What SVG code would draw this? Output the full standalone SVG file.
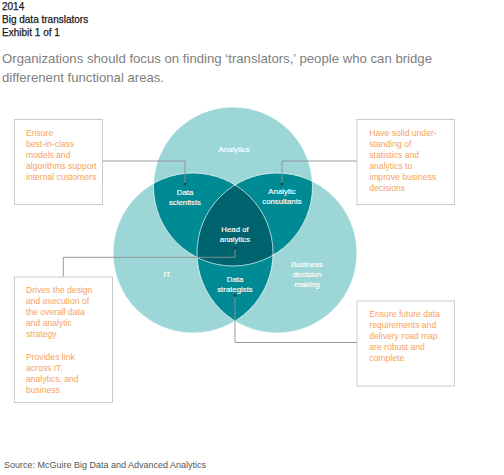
<svg xmlns="http://www.w3.org/2000/svg" width="504" height="475" viewBox="0 0 504 475">
<style>
  .hdr{font-family:"Liberation Sans",Arial,sans-serif;font-size:10px;fill:#1a1a1a;stroke:#1a1a1a;stroke-width:0.25}
  .sub{font-family:"Liberation Sans",Arial,sans-serif;font-size:13.5px;fill:#808080}
  .lbl{font-family:"Liberation Sans",Arial,sans-serif;font-size:7.8px;fill:#ffffff;text-anchor:middle;stroke:#ffffff;stroke-width:0.15}
  .note{font-family:"Liberation Sans",Arial,sans-serif;font-size:8.6px;fill:#f7a35b}
  .box{fill:#ffffff;stroke:#cbcbcb;stroke-width:1}
  .conn{fill:none;stroke:#8f8f8f;stroke-width:0.9}
  .dot{fill:#1d3b40}
  .src{font-family:"Liberation Sans",Arial,sans-serif;font-size:9px;fill:#555555}
  .light{fill:#9dd6d7}
  .mid{fill:#008a93}
  .dark{fill:#00646f}
  .edge{fill:none;stroke:#ffffff;stroke-width:0.8;stroke-opacity:0.85}
</style>
<defs>
  <clipPath id="cA"><circle cx="233" cy="186.5" r="79.5"/></clipPath>
  <clipPath id="cI"><circle cx="193" cy="253" r="80"/></clipPath>
</defs>
<rect width="504" height="475" fill="#ffffff"/>

<g id="header">
  <text class="hdr" x="2" y="9.5">2014</text>
  <text class="hdr" x="2" y="22.8">Big data translators</text>
  <text class="hdr" x="2" y="36">Exhibit 1 of 1</text>
  <text class="sub" x="2" y="63.3" textLength="430" lengthAdjust="spacingAndGlyphs">Organizations should focus on finding ‘translators,’ people who can bridge</text>
  <text class="sub" x="2" y="81.7" textLength="162" lengthAdjust="spacingAndGlyphs">differenent functional areas.</text>
</g>

<g id="venn">
  <g id="analytics"><circle class="light" cx="233" cy="186.5" r="79.5"/></g>
  <g id="it"><circle class="light" cx="193" cy="253" r="80"/></g>
  <g id="business"><circle class="light" cx="277" cy="253" r="80"/></g>
  <g id="data-scientists"><circle class="mid" cx="193" cy="253" r="80" clip-path="url(#cA)"/></g>
  <g id="analytic-consultants"><circle class="mid" cx="277" cy="253" r="80" clip-path="url(#cA)"/></g>
  <g id="data-strategists"><circle class="mid" cx="277" cy="253" r="80" clip-path="url(#cI)"/></g>
  <g id="head-of-analytics" clip-path="url(#cA)"><circle class="dark" cx="277" cy="253" r="80" clip-path="url(#cI)"/></g>
  <g id="edges">
    <circle class="edge" cx="233" cy="186.5" r="79.5"/>
    <circle class="edge" cx="193" cy="253" r="80"/>
    <circle class="edge" cx="277" cy="253" r="80"/>
  </g>
  <g id="labels">
    <text class="lbl" x="234" y="151.5">Analytics</text>
    <text class="lbl" x="185" y="194.5">Data</text>
    <text class="lbl" x="185" y="204.5">scientists</text>
    <text class="lbl" x="282" y="194">Analytic</text>
    <text class="lbl" x="282" y="204">consultants</text>
    <text class="lbl" x="235" y="232">Head of</text>
    <text class="lbl" x="235" y="242">analytics</text>
    <text class="lbl" x="167" y="277">IT</text>
    <text class="lbl" x="235" y="282">Data</text>
    <text class="lbl" x="235" y="292">strategists</text>
    <text class="lbl" x="307" y="267.3">Business</text>
    <text class="lbl" x="307" y="277.3">decision</text>
    <text class="lbl" x="307" y="287">making</text>
  </g>
</g>

<g id="connectors">
  <polyline class="conn" points="102,161 185,161 185,184"/>
  <circle class="dot" cx="185" cy="184" r="1.2"/>
  <polyline class="conn" points="357,161 282,161 282,184"/>
  <circle class="dot" cx="282" cy="184" r="1.2"/>
  <polyline class="conn" points="63.3,276.7 63.3,257.3 235,257.3 235,248.3"/>
  <circle class="dot" cx="235" cy="248.3" r="1.2"/>
  <polyline class="conn" points="357,342.5 235,342.5 235,295.5"/>
  <circle class="dot" cx="235" cy="295.5" r="1.2"/>
</g>

<g id="box-data-scientists">
  <rect class="box" x="14.5" y="119.5" width="88" height="85"/>
  <text class="note" x="26" y="135.7">Ensure</text>
  <text class="note" x="26" y="146.7">best-in-class</text>
  <text class="note" x="26" y="157.5">models and</text>
  <text class="note" x="26" y="168.7">algorithms support</text>
  <text class="note" x="26" y="180">internal customers</text>
</g>

<g id="box-analytic-consultants">
  <rect class="box" x="357" y="119.5" width="97.5" height="85"/>
  <text class="note" x="369.3" y="136">Have solid under-</text>
  <text class="note" x="369.3" y="147">standing of</text>
  <text class="note" x="369.3" y="158">statistics and</text>
  <text class="note" x="369.3" y="169">analytics to</text>
  <text class="note" x="369.3" y="180">improve business</text>
  <text class="note" x="369.3" y="191">decisions</text>
</g>

<g id="box-head-of-analytics">
  <rect class="box" x="14.5" y="277" width="98" height="125.5"/>
  <text class="note" x="26" y="293.3">Drives the design</text>
  <text class="note" x="26" y="304.3">and execution of</text>
  <text class="note" x="26" y="315.2">the overall data</text>
  <text class="note" x="26" y="326">and analytic</text>
  <text class="note" x="26" y="336.8">strategy</text>
  <text class="note" x="26" y="360">Provides link</text>
  <text class="note" x="26" y="371">across IT,</text>
  <text class="note" x="26" y="382">analytics, and</text>
  <text class="note" x="26" y="392.8">business</text>
</g>

<g id="box-data-strategists">
  <rect class="box" x="357" y="301" width="97.5" height="85"/>
  <text class="note" x="369.3" y="316.7">Ensure future data</text>
  <text class="note" x="369.3" y="327.8">requirements and</text>
  <text class="note" x="369.3" y="339">delivery road map</text>
  <text class="note" x="369.3" y="350">are robust and</text>
  <text class="note" x="369.3" y="361">complete</text>
</g>

<g id="source">
  <text class="src" x="4" y="467.5">Source: McGuire Big Data and Advanced Analytics</text>
</g>
</svg>
